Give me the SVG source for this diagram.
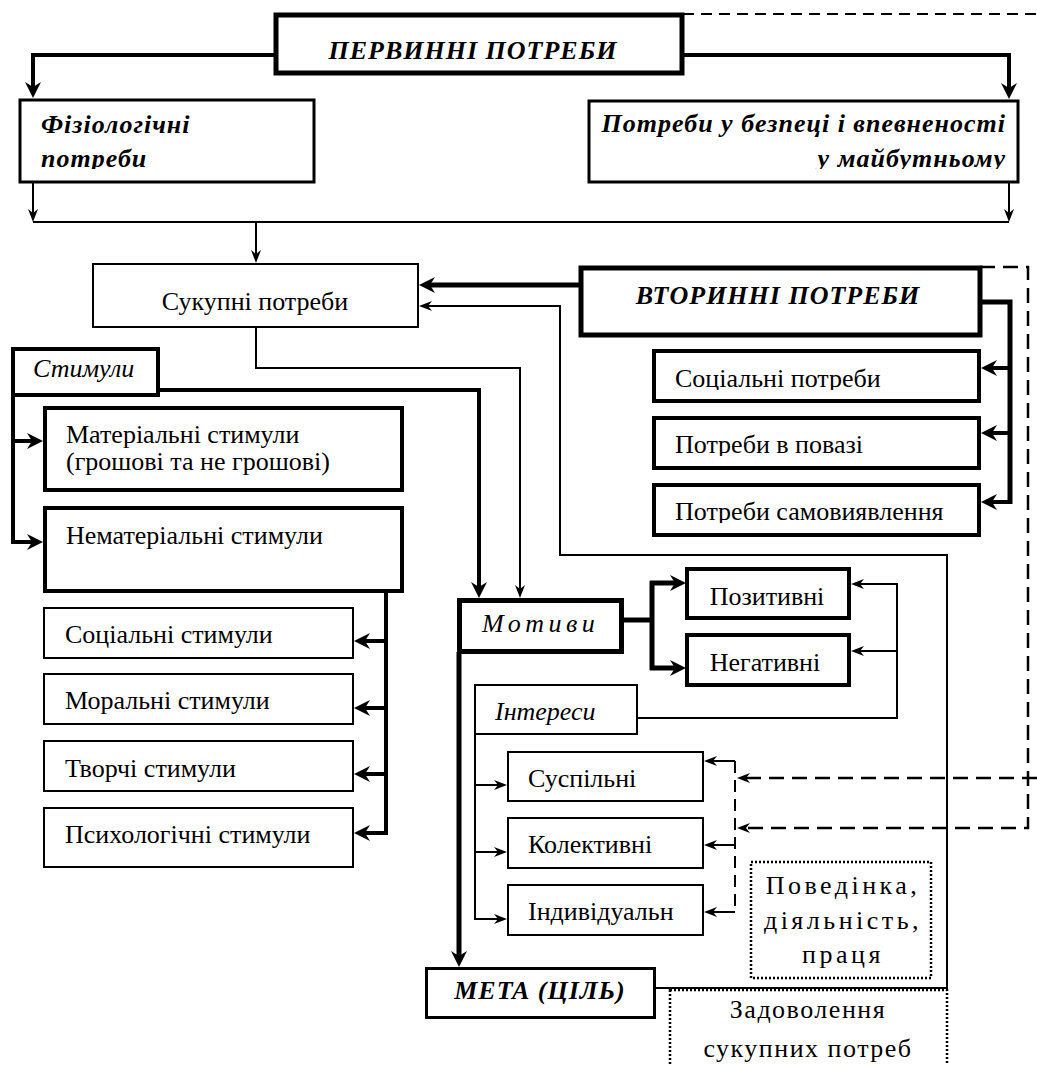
<svg xmlns="http://www.w3.org/2000/svg" width="1037" height="1065" viewBox="0 0 1037 1065">
<style>
.box{fill:#fff;stroke:#000}
.s5{stroke-width:5}.s4{stroke-width:4}.s3{stroke-width:3}.s2{stroke-width:2}
.dot{fill:none;stroke:#000;stroke-width:2.5;stroke-dasharray:2 2}
.t{font-family:"Liberation Serif","Times New Roman",serif;font-size:26px;fill:#000}
.bi{font-weight:bold;font-style:italic;letter-spacing:1px}
.it{font-style:italic}
.c{fill:none;stroke:#000}
.ck{stroke-width:5}
.cm{stroke-width:4}
.cn{stroke-width:2}
.ds{stroke-width:2.5;stroke-dasharray:15 8}
.m{text-anchor:middle}
.e{text-anchor:end}
</style>
<defs>
<marker id="ab" viewBox="0 0 16 16" refX="10" refY="8" markerWidth="16" markerHeight="16" orient="auto" markerUnits="userSpaceOnUse"><path d="M0,0 L16,8 L0,16 L5,8 z" fill="#000"/></marker>
<marker id="as" viewBox="0 0 13 10" refX="10" refY="5" markerWidth="13" markerHeight="10" orient="auto" markerUnits="userSpaceOnUse"><path d="M0,0 L13,5 L0,10 L4,5 z" fill="#000"/></marker>
<clipPath id="cf"><rect x="20" y="100" width="294" height="69"/></clipPath>
<clipPath id="cb"><rect x="589" y="101" width="429" height="68"/></clipPath>
<clipPath id="c1"><rect x="654" y="351" width="325" height="39"/></clipPath>
<clipPath id="c2"><rect x="654" y="418" width="325" height="38"/></clipPath>
<clipPath id="c3"><rect x="654" y="485" width="325" height="38"/></clipPath>
</defs>

<g id="connectors">
<path class="c cm" d="M276,55 H33 V92" marker-end="url(#ab)"/>
<path class="c cm" d="M682,55 H1009 V93" marker-end="url(#ab)"/>
<path class="c cn" d="M33,182 V219" marker-end="url(#as)"/>
<path class="c cn" d="M1009,182 V219" marker-end="url(#as)"/>
<path class="c cn" d="M33,222 H1009"/>
<path class="c cn" d="M256,222 V260" marker-end="url(#as)"/>
<path class="c ck" d="M581,285 H425" marker-end="url(#ab)"/>
<path class="c cn" d="M655,988 H947 V555 H560 V306 H422" marker-end="url(#as)"/>
<path class="c cn" d="M256,327 V368 H520 V595" marker-end="url(#as)"/>
<path class="c cm" d="M158,390 H479 V592" marker-end="url(#ab)"/>
<path class="c cm" d="M13,395 V542 H37" marker-end="url(#ab)"/>
<path class="c cm" d="M13,441 H37" marker-end="url(#ab)"/>
<path class="c cm" d="M386,591 V834"/>
<path class="c cm" d="M386,641 H360" marker-end="url(#ab)"/>
<path class="c cm" d="M386,708 H360" marker-end="url(#ab)"/>
<path class="c cm" d="M386,774 H360" marker-end="url(#ab)"/>
<path class="c cm" d="M388,833 H360" marker-end="url(#ab)"/>
<path class="c ck" d="M980,302 H1010 V504"/>
<path class="c cm" d="M1010,368 H987" marker-end="url(#ab)"/>
<path class="c cm" d="M1010,433 H987" marker-end="url(#ab)"/>
<path class="c cm" d="M1012,502 H987" marker-end="url(#ab)"/>
<path class="c ck" d="M622,620 H652"/>
<path class="c ck" d="M652,581 V670"/>
<path class="c ck" d="M650,583 H680" marker-end="url(#ab)"/>
<path class="c ck" d="M650,668 H680" marker-end="url(#ab)"/>
<path class="c cn" d="M637,718 H897 V584 H854" marker-end="url(#as)"/>
<path class="c cn" d="M897,651 H854" marker-end="url(#as)"/>
<path class="c cn" d="M475,734 V919 H504" marker-end="url(#as)"/>
<path class="c cn" d="M475,785 H504" marker-end="url(#as)"/>
<path class="c cn" d="M475,852 H504" marker-end="url(#as)"/>
<path class="c ck" d="M459,652 V961" marker-end="url(#ab)"/>
<path class="c" style="stroke-width:2;stroke-dasharray:11 7" d="M683,14 H1037"/>
<path class="c ds" d="M980,267 H1028 V828 H740" marker-end="url(#as)"/>
<path class="c ds" d="M1037,778 H740" marker-end="url(#as)"/>
<path class="c" style="stroke-width:2;stroke-dasharray:12 7" d="M735,761 V912"/>
<path class="c cn" d="M735,761 H707" marker-end="url(#as)"/>
<path class="c cn" d="M735,845 H707" marker-end="url(#as)"/>
<path class="c cn" d="M735,912 H707" marker-end="url(#as)"/>
</g>

<g id="pervinni"><rect class="box s5" x="276" y="15" width="406" height="58"/><text class="t bi m" x="473" y="59">ПЕРВИННІ ПОТРЕБИ</text></g>
<g id="fiziol"><rect class="box s3" x="20" y="100" width="294" height="82"/><g clip-path="url(#cf)"><text class="t bi" x="41" y="133">Фізіологічні</text><text class="t bi" x="41" y="167">потреби</text></g></g>
<g id="bezpeka"><rect class="box s3" x="589" y="101" width="429" height="81"/><g clip-path="url(#cb)"><text class="t bi e" x="1006" y="132">Потреби у безпеці і впевненості</text><text class="t bi e" x="1006" y="167">у майбутньому</text></g></g>
<g id="sukupni"><rect class="box s2" x="93" y="264" width="325" height="63"/><text class="t m" x="255" y="310">Сукупні потреби</text></g>
<g id="vtorinni"><rect class="box s5" x="581" y="268" width="399" height="67"/><text class="t bi m" x="778" y="304">ВТОРИННІ ПОТРЕБИ</text></g>
<g id="socpotr"><rect class="box s4" x="654" y="351" width="325" height="50"/><g clip-path="url(#c1)"><text class="t" x="675" y="387">Соціальні потреби</text></g></g>
<g id="povaga"><rect class="box s4" x="654" y="418" width="325" height="50"/><g clip-path="url(#c2)"><text class="t" x="675" y="453">Потреби в повазі</text></g></g>
<g id="samovyav"><rect class="box s4" x="654" y="485" width="325" height="50"/><g clip-path="url(#c3)"><text class="t" x="675" y="520">Потреби самовиявлення</text></g></g>
<g id="stymuly"><rect class="box s4" x="13" y="349" width="145" height="46"/><text class="t it" x="33" y="377">Стимули</text></g>
<g id="material"><rect class="box s4" x="45" y="408" width="357" height="82"/><text class="t" x="66" y="443">Матеріальні стимули</text><text class="t" x="66" y="470">(грошові та не грошові)</text></g>
<g id="nematerial"><rect class="box s4" x="45" y="508" width="357" height="83"/><text class="t" x="66" y="544">Нематеріальні стимули</text></g>
<g id="socstym"><rect class="box s2" x="44" y="608" width="309" height="50"/><text class="t" x="65" y="643">Соціальні стимули</text></g>
<g id="moral"><rect class="box s2" x="44" y="674" width="309" height="50"/><text class="t" x="65" y="709">Моральні стимули</text></g>
<g id="tvorchi"><rect class="box s2" x="44" y="741" width="309" height="50"/><text class="t" x="65" y="777">Творчі стимули</text></g>
<g id="psych"><rect class="box s2" x="44" y="808" width="309" height="59"/><text class="t" x="65" y="843">Психологічні стимули</text></g>
<g id="motyvy"><rect class="box s5" x="459.5" y="600.5" width="162" height="51"/><text class="t it" x="482" y="632" style="letter-spacing:4.5px">Мотиви</text></g>
<g id="pozytyvni"><rect class="box s4" x="687" y="569" width="162" height="49"/><text class="t m" x="767" y="605">Позитивні</text></g>
<g id="negatyvni"><rect class="box s4" x="687" y="635" width="162" height="50"/><text class="t m" x="765" y="671">Негативні</text></g>
<g id="interesy"><rect class="box s2" x="475" y="685" width="162" height="49"/><text class="t it" x="495" y="720">Інтереси</text></g>
<g id="suspilni"><rect class="box s2" x="508" y="752" width="195" height="49"/><text class="t" x="528" y="787">Суспільні</text></g>
<g id="kolektyvni"><rect class="box s2" x="508" y="818" width="195" height="50"/><text class="t" x="528" y="853">Колективні</text></g>
<g id="indyvid"><rect class="box s2" x="508" y="885" width="195" height="50"/><text class="t" x="528" y="920">Індивідуальн</text></g>
<g id="povedinka"><rect class="dot" x="751" y="862" width="180" height="116"/><text class="t m" x="843" y="894" style="letter-spacing:3.5px">Поведінка,</text><text class="t m" x="843" y="929" style="letter-spacing:3.5px">діяльність,</text><text class="t m" x="843" y="963" style="letter-spacing:3.5px">праця</text></g>
<g id="meta"><rect class="box s3" x="426.5" y="968.5" width="228" height="49"/><text class="t bi m" x="540" y="999">МЕТА (ЦІЛЬ)</text></g>
<g id="zadovolennia"><rect class="dot" x="670" y="990" width="277" height="90"/><text class="t m" x="808" y="1018" style="letter-spacing:1.5px">Задоволення</text><text class="t m" x="808" y="1057" style="letter-spacing:1.5px">сукупних потреб</text></g>
</svg>
